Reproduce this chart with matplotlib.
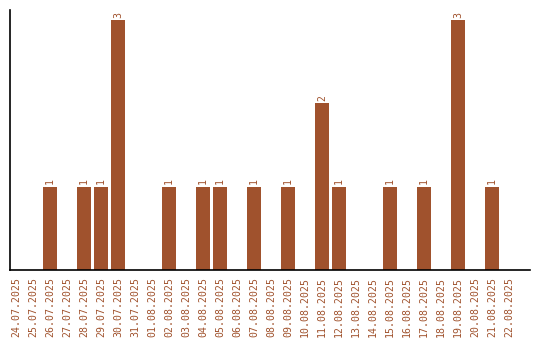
import matplotlib
matplotlib.use("Agg")
import matplotlib.pyplot as plt

dates = ["24.07.2025", "25.07.2025", "26.07.2025", "27.07.2025", "28.07.2025",
         "29.07.2025", "30.07.2025", "31.07.2025", "01.08.2025", "02.08.2025",
         "03.08.2025", "04.08.2025", "05.08.2025", "06.08.2025", "07.08.2025",
         "08.08.2025", "09.08.2025", "10.08.2025", "11.08.2025", "12.08.2025",
         "13.08.2025", "14.08.2025", "15.08.2025", "16.08.2025", "17.08.2025",
         "18.08.2025", "19.08.2025", "20.08.2025", "21.08.2025", "22.08.2025"]
counts = [0, 0, 1, 0, 1, 1, 3, 0, 0, 1, 0, 1, 1, 0, 1, 0, 1, 0, 2, 1,
          0, 0, 1, 0, 1, 0, 3, 0, 1, 0]

color = "#A0522D"
fig = plt.figure(figsize=(5.4, 3.4), dpi=100)
ax = fig.add_axes([10/540, 1 - 270/340, 520/540, 260/340])
x = list(range(len(dates)))
ax.bar(x, counts, width=0.82, color=color)
for xi, c in zip(x, counts):
    if c > 0:
        ax.text(xi, c + 0.03, str(c), rotation=90, ha="center", va="bottom",
                fontsize=7.1, family="DejaVu Sans Mono", color=color)
ax.set_xlim(-0.35, 30.24)
ax.set_ylim(0, 3.12)
ax.set_xticks(x)
ax.set_xticklabels(dates, rotation=90, fontsize=7.1, family="DejaVu Sans Mono", color=color)
ax.tick_params(axis="x", length=0, pad=5)
ax.set_yticks([])
ax.spines["top"].set_visible(False)
ax.spines["right"].set_visible(False)
ax.spines["left"].set_linewidth(1.2)
ax.spines["bottom"].set_linewidth(1.2)
fig.savefig("out.png", dpi=100)
